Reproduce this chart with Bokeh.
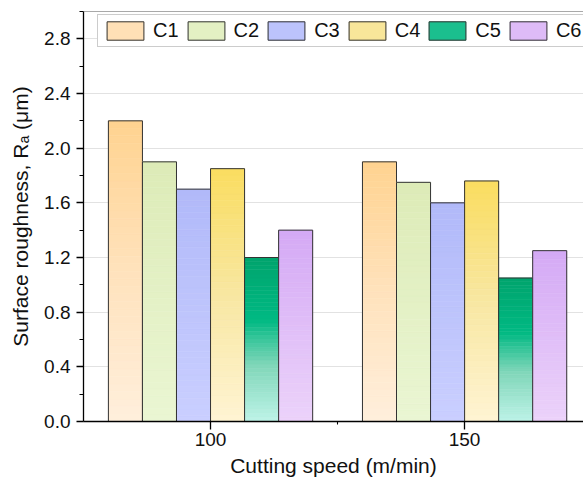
import numpy as np
from bokeh.plotting import figure
from bokeh.models import (ColumnDataSource, FixedTicker, Legend, LegendItem,
                          Span, Range1d, PrintfTickFormatter)
from bokeh.embed import file_html
from bokeh.resources import INLINE

# ---------------- data ----------------
speeds = [100, 150]
series = ["C1", "C2", "C3", "C4", "C5", "C6"]
C1 = [2.20, 1.90]
C2 = [1.90, 1.75]
C3 = [1.70, 1.60]
C4 = [1.85, 1.76]
C5 = [1.20, 1.05]
C6 = [1.40, 1.25]
values = [C1, C2, C3, C4, C5, C6]
y_ticks = [0.0, 0.4, 0.8, 1.2, 1.6, 2.0, 2.4, 2.8]
x_ticks = [100, 150]

# ---------------- styles ----------------
# gradient stops: (position from bottom 0 .. top 1, colour)
gradients = [
    [(0.0, "#FFEFDC"), (0.5, "#FFE2BC"), (1.0, "#FFD390")],
    [(0.0, "#EAF6D3"), (1.0, "#DDEBB7")],
    [(0.0, "#CACFFF"), (1.0, "#B1B9F9")],
    [(0.0, "#FFF4D3"), (0.5, "#F8E7A2"), (1.0, "#FADD60")],
    [(0.0, "#BEF3E8"), (0.35, "#7FD6B8"), (0.62, "#00B983"), (1.0, "#00A46D")],
    [(0.0, "#ECD3FA"), (1.0, "#D4A9F5")],
]
bar_w = 6.7
N_STRIPS = 40
K_MID = 22  # strip used for the legend swatch colour

W, H = 583, 484
BL, BT, BB = 83, 11, 63


def hex2rgb(h):
    h = h.lstrip("#")
    return np.array([int(h[i:i + 2], 16) for i in (0, 2, 4)], dtype=float)


def grad_color(stops, t):
    for (p0, c0), (p1, c1) in zip(stops[:-1], stops[1:]):
        if p0 <= t <= p1:
            f = (t - p0) / (p1 - p0) if p1 > p0 else 0
            c = hex2rgb(c0) * (1 - f) + hex2rgb(c1) * f
            return "#%02x%02x%02x" % tuple(int(round(v)) for v in c)
    return stops[-1][1]


p = figure(width=W, height=H,
           x_range=Range1d(75, 173.4), y_range=Range1d(0, 3.0),
           output_backend="svg", toolbar_location=None,
           min_border_left=BL, min_border_right=0,
           min_border_top=BT, min_border_bottom=BB)

p.outline_line_color = None
p.background_fill_color = "white"

# grid
p.xgrid.visible = False
p.ygrid.ticker = FixedTicker(ticks=y_ticks)
p.ygrid.grid_line_color = "#e2e2e2"
p.ygrid.grid_line_width = 1

# gradient bars: each bar split into thin strips; outline drawn on top
items = []
for j, vals in enumerate(values):
    sx, sb, st, sc = [], [], [], []
    ox, ot = [], []
    for i, sp in enumerate(speeds):
        v = vals[i]
        xc = sp + (j - 2.5) * bar_w
        order = list(range(K_MID, N_STRIPS)) + list(range(0, K_MID))
        for k in order:
            sx.append(xc)
            sb.append(v * k / N_STRIPS)
            st.append(v * (k + 1) / N_STRIPS)
            sc.append(grad_color(gradients[j], (k + 0.5) / N_STRIPS))
        ox.append(xc)
        ot.append(v)
    r_strip = p.vbar(x="x", bottom="bottom", top="top", width=bar_w,
                     source=ColumnDataSource(dict(x=sx, bottom=sb, top=st, color=sc)),
                     fill_color="color", line_color="color", line_width=0.6)
    r_out = p.vbar(x="x", bottom=0, top="top", width=bar_w,
                   source=ColumnDataSource(dict(x=ox, top=ot)),
                   fill_color=None, line_color="#333333", line_width=1)
    items.append(LegendItem(label=series[j], renderers=[r_strip, r_out], index=0))

# top border
p.add_layout(Span(location=3.0, dimension="width", line_color="#555555",
                  line_width=1))

# axes
FONT = "Liberation Sans"
p.yaxis.ticker = FixedTicker(ticks=y_ticks,
                             minor_ticks=[round(t + 0.2, 1) for t in y_ticks])
p.yaxis.formatter = PrintfTickFormatter(format="%.1f")
p.yaxis.axis_label = "Surface roughness, R\u2090 (\u03bcm)"
p.xaxis.ticker = FixedTicker(ticks=x_ticks,
                             minor_ticks=[(x_ticks[0] + x_ticks[1]) / 2])
p.xaxis.axis_label = "Cutting speed (m/min)"

for ax in (p.xaxis[0], p.yaxis[0]):
    ax.axis_line_color = "black"
    ax.axis_line_width = 1.3
    ax.major_tick_line_color = "black"
    ax.minor_tick_line_color = "black"
    ax.major_tick_line_width = 1.3
    ax.minor_tick_line_width = 1.1
    ax.major_tick_in = 0
    ax.minor_tick_in = 0
    ax.major_label_text_font = FONT
    ax.major_label_text_font_size = "19px"
    ax.major_label_text_color = "#111111"
    ax.axis_label_text_font = FONT
    ax.axis_label_text_font_size = "21px"
    ax.axis_label_text_font_style = "normal"
    ax.axis_label_text_color = "#111111"

p.yaxis.major_tick_out = 7
p.yaxis.minor_tick_out = 4
p.yaxis.major_label_standoff = 6
p.yaxis.axis_label_standoff = 9
p.xaxis.major_tick_out = 8
p.xaxis.minor_tick_out = 3
p.xaxis.major_label_standoff = 3
p.xaxis.axis_label_standoff = 5

frame_h = H - BT - BB
legend_h = 31
legend = Legend(items=items, orientation="horizontal",
                location=(14, frame_h - 5 - legend_h),
                glyph_width=46, glyph_height=23, label_height=23,
                label_standoff=5, spacing=4, padding=4, margin=0,
                label_text_font=FONT, label_text_font_size="20px",
                label_text_color="#111111",
                border_line_color="#999999", border_line_width=1,
                background_fill_color="white", background_fill_alpha=1.0)
p.add_layout(legend)

open("out.html", "w").write(file_html(p, INLINE))
